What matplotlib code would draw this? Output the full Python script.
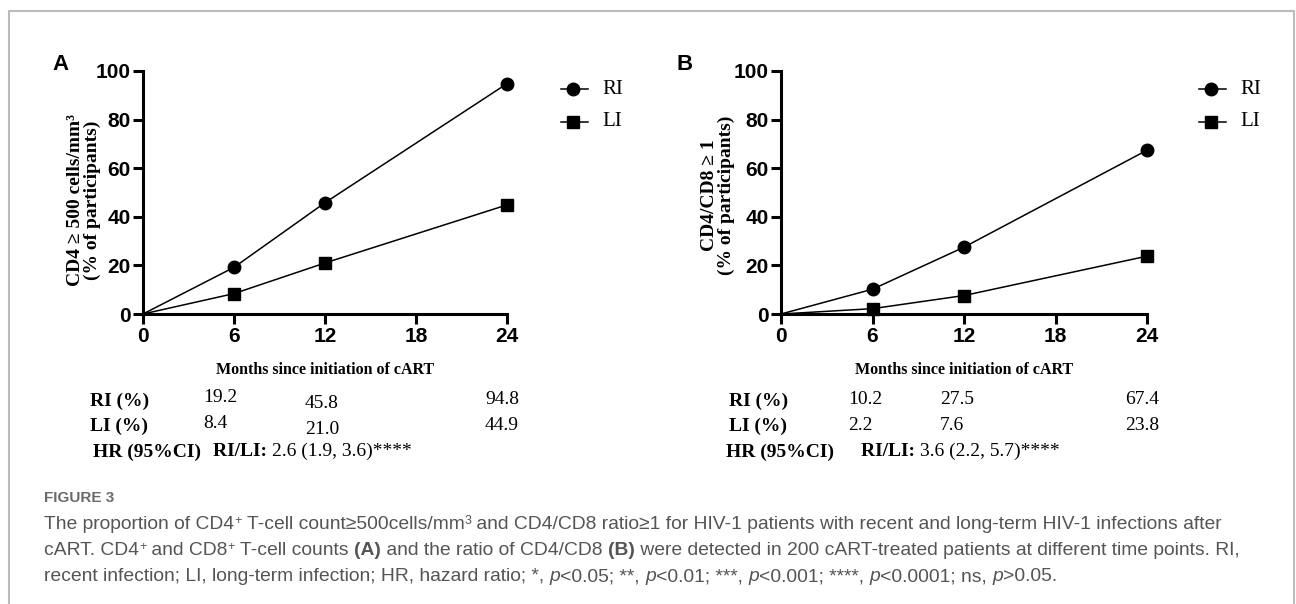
import matplotlib
matplotlib.use("Agg")
import matplotlib.pyplot as plt
from matplotlib.transforms import IdentityTransform
from matplotlib.lines import Line2D

# =================
# DATA
# =================
months = [0, 6, 12, 24]
a_ri = [0, 19.2, 45.8, 94.8]
a_li = [0, 8.4, 21.0, 44.9]
b_ri = [0, 10.2, 27.5, 67.4]
b_li = [0, 2.2, 7.6, 23.8]
x_ticks = [0, 6, 12, 18, 24]
y_ticks = [0, 20, 40, 60, 80, 100]
a_hr = "2.6 (1.9, 3.6)****"
b_hr = "3.6 (2.2, 5.7)****"

W, H = 1296, 604
SANS = ["Liberation Sans", "DejaVu Sans"]
SERIF = ["Liberation Serif", "DejaVu Serif"]

fig = plt.figure(figsize=(W / 100, H / 100), dpi=100)
PX = IdentityTransform()


def txt(x, y, s, **kw):
    # x, y w pikselach obrazka (początek w lewym górnym rogu)
    return fig.text(x, H - y, s, transform=PX, **kw)


def runs(x, y, parts, **base):
    r = fig.canvas.get_renderer()
    for s, kw in parts:
        k = dict(base)
        k.update(kw)
        dy = k.pop("dy", 0)
        t = txt(x, y - dy, s, **k)
        x += t.get_window_extent(r).width
    return x


def panel(left, right, ri, li, ylabel, lab_x, lab_y, letter, lx, leg_x):
    top, bottom = 71, 314
    ax = fig.add_axes([left / W, 1 - bottom / H, (right - left) / W, (bottom - top) / H])
    ax.plot(months, ri, "-", color="black", lw=1.1, marker="o", ms=9,
            markevery=[1, 2, 3], clip_on=False, zorder=3)
    ax.plot(months, li, "-", color="black", lw=1.1, marker="s", ms=9,
            markevery=[1, 2, 3], clip_on=False, zorder=3)
    ax.set_xlim(0, 24)
    ax.set_ylim(0, 100)
    ax.set_xticks(x_ticks)
    ax.set_yticks(y_ticks)
    for s in ["top", "right"]:
        ax.spines[s].set_visible(False)
    for s in ["left", "bottom"]:
        ax.spines[s].set_linewidth(2.2)
    ax.tick_params(width=2.2, length=7, pad=2, labelsize=15)
    for lab in ax.get_xticklabels() + ax.get_yticklabels():
        lab.set_family(SANS)
        lab.set_fontweight("bold")
    ax.set_ylabel(ylabel, family=SERIF, fontweight="bold", fontsize=14,
                  linespacing=0.95)
    ax.yaxis.set_label_coords((lab_x - left) / (right - left),
                              (bottom - lab_y) / (bottom - top))
    ax.set_xlabel("Months since initiation of cART", family=SERIF,
                  fontweight="bold", fontsize=11.5, labelpad=12)
    txt(lx, 65, letter, family=SANS, fontweight="bold", fontsize=16,
        ha="left", va="center")
    # legenda
    for yy, m, name in [(89, "o", "RI"), (122, "s", "LI")]:
        fig.add_artist(Line2D([leg_x, leg_x + 27], [H - yy, H - yy], transform=PX,
                              color="black", lw=1.1))
        fig.add_artist(Line2D([leg_x + 12], [H - yy], transform=PX,
                              color="black", marker=m, ms=9, ls="none"))
        txt(leg_x + 41, yy, name, family=SERIF, fontsize=15, va="center")
    return ax


panel(143, 507, a_ri, a_li, "CD4 \u2265 500 cells/mm\u00b3\n(% of participants)",
      101, 200, "A", 52, 561)
panel(781, 1147, b_ri, b_li, "CD4/CD8 \u2265 1\n(% of participants)",
      735, 195, "B", 677, 1199)

# =================
# TABELE
# =================
tab_kw = dict(family=SERIF, fontsize=14, va="center")


def table(lab_x, val_x, ri, li, hr_x, rl_x, hr, offs_ri, offs_li):
    txt(lab_x, 401, "RI (%)", fontweight="bold", **tab_kw)
    txt(lab_x, 426, "LI (%)", fontweight="bold", **tab_kw)
    for v, x, d in zip(ri[1:], val_x, offs_ri):
        txt(x, 400 + d, f"{v:.1f}", **tab_kw)
    for v, x, d in zip(li[1:], val_x, offs_li):
        txt(x, 425 + d, f"{v:.1f}", **tab_kw)
    txt(hr_x, 452, "HR (95%CI)", fontweight="bold", **tab_kw)
    runs(rl_x, 451, [("RI/LI: ", dict(fontweight="bold")), (hr, {})], **tab_kw)


table(90, [203, 305, 485], a_ri, a_li, 93, 213, a_hr, [-2, 3, 0], [-2, 4, 0])
table(729, [848, 940, 1125], b_ri, b_li, 726, 861, b_hr, [0, 0, 0], [0, 0, 0])

# =================
# PODPIS
# =================
grey = "#555555"
cap = dict(family=SANS, fontsize=13.9, color=grey, va="baseline")
sup = dict(fontsize=9, dy=5)
it = dict(style="italic")
bd = dict(fontweight="bold")
txt(44, 502, "FIGURE 3", family=SANS, fontsize=11, fontweight="bold",
    color="#6a6a6a", va="baseline")
runs(44, 529, [("The proportion of CD4", {}), ("+", sup),
               (" T-cell count\u2265500cells/mm", {}), ("3", sup),
               (" and CD4/CD8 ratio\u22651 for HIV-1 patients with recent and long-term HIV-1 infections after", {})], **cap)
runs(44, 555, [("cART. CD4", {}), ("+", sup), (" and CD8", {}), ("+", sup),
               (" T-cell counts ", {}), ("(A)", bd), (" and the ratio of CD4/CD8 ", {}),
               ("(B)", bd), (" were detected in 200 cART-treated patients at different time points. RI,", {})], **cap)
runs(44, 581, [("recent infection; LI, long-term infection; HR, hazard ratio; *, ", {}), ("p", it),
               ("<0.05; **, ", {}), ("p", it), ("<0.01; ***, ", {}), ("p", it),
               ("<0.001; ****, ", {}), ("p", it), ("<0.0001; ns, ", {}), ("p", it), (">0.05.", {})], **cap)

# ramka
fr = "#bbbbbb"
fig.add_artist(Line2D([9, 9, 1294, 1294], [0, H - 11, H - 11, 0], transform=PX,
                      color=fr, lw=1.5))

fig.savefig("out.png", dpi=100)
